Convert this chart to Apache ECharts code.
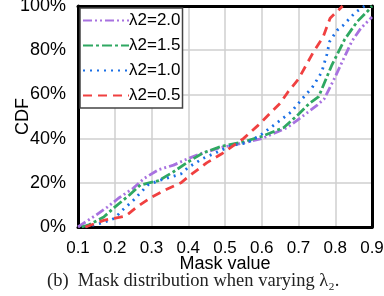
<!DOCTYPE html>
<html>
<head>
<meta charset="utf-8">
<script src="https://cdn.jsdelivr.net/npm/echarts@6/dist/echarts.min.js"></script>
<style>
  html, body { margin: 0; padding: 0; background: #fff; }
  #chart { width: 384px; height: 296px; }
</style>
</head>
<body>
<div id="chart"></div>
<script>
// mask value / CDF (%)
var names = ['λ2=2.0', 'λ2=1.5', 'λ2=1.0', 'λ2=0.5'];

var x20 = [0.1, 0.15, 0.18, 0.21, 0.25, 0.28, 0.32, 0.36, 0.4, 0.44, 0.49, 0.55, 0.6, 0.67, 0.71, 0.75, 0.77, 0.8, 0.845, 0.87, 0.9];
var y20 = [0, 5.5, 9, 13, 17.5, 22, 26, 28, 31, 33.5, 36, 38, 40, 45, 50, 55, 58, 68, 84, 90, 95];

var x15 = [0.11, 0.13, 0.17, 0.2, 0.24, 0.27, 0.32, 0.36, 0.4, 0.44, 0.49, 0.55, 0.6, 0.66, 0.7, 0.73, 0.755, 0.79, 0.826, 0.86, 0.89, 0.9];
var y15 = [0, 1, 4.5, 9, 14.5, 19, 21, 25, 29.5, 33.5, 36.5, 38.5, 41, 45, 51, 56, 59, 73, 85, 93, 98, 100];

var x10 = [0.12, 0.17, 0.2, 0.22, 0.25, 0.29, 0.32, 0.36, 0.38, 0.4, 0.44, 0.48, 0.52, 0.56, 0.6, 0.64, 0.68, 0.71, 0.737, 0.763, 0.777, 0.785, 0.805, 0.82, 0.854, 0.88];
var y10 = [0, 2, 4, 7.5, 12, 19, 21, 23, 24, 27, 31, 34, 37, 38, 42, 47, 52, 58, 63, 70, 78, 84, 89, 91, 97, 100];

var x05 = [0.12, 0.17, 0.23, 0.26, 0.3, 0.34, 0.38, 0.41, 0.45, 0.49, 0.55, 0.59, 0.62, 0.65, 0.671, 0.7, 0.74, 0.767, 0.786, 0.808, 0.82];
var y05 = [0, 3, 5, 9, 13.5, 17, 20, 24, 29, 33, 40, 46, 51, 56, 61, 67, 79, 86, 94.5, 98, 100];

var colors = ['#a872e0', '#2fa862', '#1a6fe6', '#f04040'];
var dashes = [[9, 3, 2, 3, 2, 3], [10, 3, 3, 3], [2, 5], [9, 6]];
var xs = [x20, x15, x10, x05];
var ys = [y20, y15, y10, y05];

function pairs(x, y) {
  return x.map(function (v, i) { return [v, y[i]]; });
}

var chart = echarts.init(document.getElementById('chart'));
var font = 'Liberation Sans, Arial, sans-serif';
var frame = { show: true, onZero: false, lineStyle: { color: '#000', width: 3 } };

var option = {
  animation: false,
  grid: {
    left: 78, right: 12, top: 6, bottom: 69,
    outerBoundsMode: 'none', containLabel: false
  },
  legend: {
    data: names,
    left: 80, top: 8,
    orient: 'vertical',
    itemWidth: 46, itemHeight: 14, itemGap: 8,
    padding: [4, 2, 4, 2],
    borderColor: '#444', borderWidth: 1.5,
    backgroundColor: '#fff',
    itemStyle: { opacity: 0 },
    textStyle: { fontFamily: font, fontSize: 17, color: '#000', padding: [0, 0, 0, -5] }
  },
  xAxis: [{
    type: 'value', min: 0.1, max: 0.9, interval: 0.1,
    name: 'Mask value', nameLocation: 'middle', nameGap: 28, nameMoveOverlap: false,
    nameTextStyle: { fontFamily: font, fontSize: 18, color: '#000' },
    axisLine: frame,
    axisTick: { show: false },
    axisLabel: { fontFamily: font, fontSize: 17, color: '#000', margin: 13,
      formatter: function (v) { return v.toFixed(1); } },
    splitLine: { show: true, lineStyle: { color: '#cfcfcf', width: 1.5 } }
  }, {
    type: 'value', min: 0.1, max: 0.9, position: 'top',
    axisLine: frame, axisTick: { show: false }, axisLabel: { show: false }, splitLine: { show: false }
  }],
  yAxis: [{
    type: 'value', min: 0, max: 100, interval: 20,
    name: 'CDF', nameLocation: 'middle', nameGap: 46, nameMoveOverlap: false,
    nameTextStyle: { fontFamily: font, fontSize: 18, color: '#000' },
    axisLine: frame,
    axisTick: { show: false },
    axisLabel: { fontFamily: font, fontSize: 18, color: '#000', margin: 12, formatter: '{value}%' },
    splitLine: { show: true, lineStyle: { color: '#cfcfcf', width: 1.5 } }
  }, {
    type: 'value', min: 0, max: 100, position: 'right',
    axisLine: frame, axisTick: { show: false }, axisLabel: { show: false }, splitLine: { show: false }
  }],
  graphic: [{
    type: 'text', left: 47, top: 272,
    style: {
      text: '(b)  Mask distribution when varying λ₂.',
      fontFamily: 'Liberation Serif, DejaVu Serif, serif', fontSize: 18.5, fill: '#222'
    }
  }],
  series: names.map(function (n, i) {
    return {
      name: n, type: 'line', symbol: 'none',
      data: pairs(xs[i], ys[i]),
      z: 2 + i,
      itemStyle: { color: colors[i] },
      lineStyle: { color: colors[i], width: 2.8, type: dashes[i] }
    };
  })
};

chart.setOption(option);
</script>
</body>
</html>
